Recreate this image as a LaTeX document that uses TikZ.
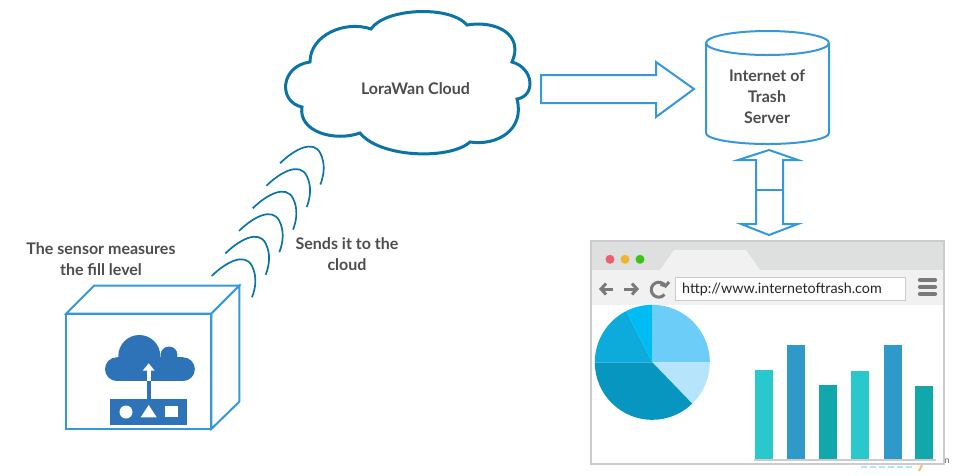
\documentclass[tikz,border=0pt]{standalone}
\usepackage{fontspec}
\setmainfont{Lato}
\usetikzlibrary{arrows.meta}
\definecolor{cloudblue}{HTML}{0A75A5}
\definecolor{boxblue}{HTML}{3498DB}
\definecolor{iconblue}{HTML}{2E72B8}
\definecolor{labelgrey}{HTML}{4D4D4D}
\definecolor{framegrey}{HTML}{CCCCCC}
\definecolor{tabgrey}{HTML}{DDE0DE}
\definecolor{toolgrey}{HTML}{F1F1F1}
\definecolor{glyphgrey}{HTML}{7A7A7A}
\definecolor{barteal}{HTML}{29C8CC}
\definecolor{barblue}{HTML}{2F9ACA}
\definecolor{bardark}{HTML}{12A7AB}
\tikzset{
  label text/.style={font=\fontsize{16}{20.5}\selectfont\bfseries, text=labelgrey, align=center, inner sep=0pt},
  outline/.style={draw=boxblue, line width=2pt, line join=miter, fill=white},
  wave/.style={draw=cloudblue, line width=1.7pt},
  toolglyph/.style={draw=glyphgrey, line width=3pt, -{Straight Barb[length=5pt,width=11pt,line width=3pt]}},
}
\begin{document}
\begin{tikzpicture}[x=1pt,y=-1pt]
  \useasboundingbox (0,0) rectangle (955,475);

  %Cloud
  \draw[draw=cloudblue, line width=3pt, fill=white]
    (371,29) .. controls (385,8) and (450,5) .. (467,25)
    .. controls (497,20) and (524,35) .. (512,62)
    .. controls (534,68) and (536,96) .. (517,99)
    .. controls (525,130) and (497,146) .. (470,142)
    .. controls (450,160) and (380,158) .. (360,133)
    .. controls (335,142) and (298,132) .. (302,107)
    .. controls (278,102) and (280,66) .. (310,62)
    .. controls (310,35) and (345,20) .. (371,29) -- cycle;

  %Waves
  \foreach \i in {0,...,5}
    \draw[wave, shift={(13.67*\i,-22.55*\i)}]
      (211.7,276) .. controls (226,262) and (245,252) .. (252,266)
      .. controls (257,276) and (256,287) .. (252,297.3);

  %Sensor box
  \draw[outline] (66,313.7) rectangle (211.3,429);
  \draw[outline] (66,313.7) -- (94,285.7) -- (239.3,285.7) -- (211.3,313.7) -- cycle;
  \draw[outline] (211.3,313.7) -- (239.3,285.7) -- (239.3,401.7) -- (211.3,429) -- cycle;

  %Sensor icon
  \fill[iconblue] (117,357.3) rectangle (183,381);
  \fill[iconblue] (116.85,369.15) circle (11.85);
  \fill[iconblue] (183,369.15) circle (11.85);
  \fill[iconblue] (139.3,356) circle (21);
  \fill[iconblue] (169,355) circle (8.5);
  \fill[iconblue] (146.7,381) rectangle (150.7,400);
  \fill[iconblue] (110.3,399) rectangle (187,425);
  \fill[white] (146.7,370) rectangle (150.7,381);
  \fill[white] (148.7,363.3) -- (154.7,370.7) -- (142.7,370.7) -- cycle;
  \fill[white] (126,412) circle (6.5);
  \fill[white] (148.7,405) -- (156.7,417.3) -- (140.7,417.3) -- cycle;
  \fill[white] (164.7,406) rectangle (178,417.3);

  %Big arrow
  \draw[outline] (541,75) -- (656,75) -- (656,62) -- (694,89) -- (656,117) -- (656,103) -- (541,103) -- cycle;

  %Server
  \draw[outline] (706,43) -- (706,133) arc[start angle=180,end angle=360,x radius=61.5pt,y radius=11pt]
    -- (829,43);
  \draw[outline] (767.5,43) ellipse (61.5 and 12);

  %Double arrow
  \draw[outline] (769,150) -- (798,160) -- (783,160) -- (783,224) -- (798,224) -- (769,235)
    -- (741,224) -- (756,224) -- (756,160) -- (738,160) -- cycle;
  \draw[draw=boxblue, line width=2pt] (756,190) -- (783,190);

  %Browser
  \node[text=black!60, font=\fontsize{9}{9}\selectfont, inner sep=0pt] (stray) at (947,461) {n};
  \draw[blue!35!cyan!30, line width=2.5pt, dash pattern=on 6pt off 3pt] (861,467) -- (912,467);
  \draw[orange!55, line width=2pt] (922,465) -- (919,471);
  \fill[white] (591,241) rectangle (944,464);
  \fill[tabgrey] (591,241) rectangle (944,270);
  \fill[toolgrey] (591,270) rectangle (944,305);
  \fill[toolgrey] (660,270) -- (674,250) -- (746,250) -- (760,270) -- cycle;
  \foreach \x/\c in {610/EC5F72,625/EFB52D,640/3CC21B} {
    \definecolor{dotcol}{HTML}{\c}
    \fill[dotcol] (\x,259.3) circle (4.5);
  }
  \draw[toolglyph] (613,289) -- (599,289);
  \draw[toolglyph] (624,289) -- (639,289);
  \draw[toolglyph, -{Straight Barb[length=3pt,width=9pt,line width=3pt]}] (664.5,294.5) arc[start angle=-40,end angle=-345,radius=7.5pt];
  \node[draw=framegrey, line width=0.8pt, fill=white, minimum width=229.6pt, minimum height=22.6pt, inner sep=0pt] (url) at (790.5,289) {};
  \node[anchor=west, inner sep=0pt, font=\fontsize{14.3}{14}\selectfont, text=black!85] (urltext) at (682,289) {http://www.internetoftrash.com};
  \foreach \y in {280,287,294}
    \draw[glyphgrey, line width=4.2pt, line cap=round] (920,\y) -- (935,\y);

  %Pie
  \coordinate (pie) at (652.3,362.3);
  \foreach \a/\b/\c in {0/90/6CCDF8,-46/0/B5E4FB,-180/-46/0796C0,117/180/0CABDC,90/117/00BCF5} {
    \definecolor{slicecol}{HTML}{\c}
    \fill[slicecol] (pie) -- ++(\a:57.5pt) arc[start angle=\a,end angle=\b,radius=57.5pt] -- cycle;
  }

  %Bars
  \foreach \x/\t/\c in {755/370/barteal,787/345/barblue,819/385/bardark,851/371/barteal,884/345/barblue,915/386/bardark}
    \fill[\c] (\x,\t) rectangle (\x+18,459);
  \draw[framegrey, line width=1.5pt] (754,460) -- (936,460);
  \draw[framegrey, line width=2pt] (591,241) rectangle (944,464);

  %Labels
  \node[label text] (sensorlabel) at (101,259) {The sensor measures\\the fill level};
  \node[label text] (sendlabel) at (347,254) {Sends it to the\\cloud};
  \node[label text] (cloudlabel) at (415.5,89) {LoraWan Cloud};
  \node[label text, font=\fontsize{16}{21}\selectfont\bfseries] (serverlabel) at (767,96.5) {Internet of\\Trash\\Server};
\end{tikzpicture}
\end{document}
